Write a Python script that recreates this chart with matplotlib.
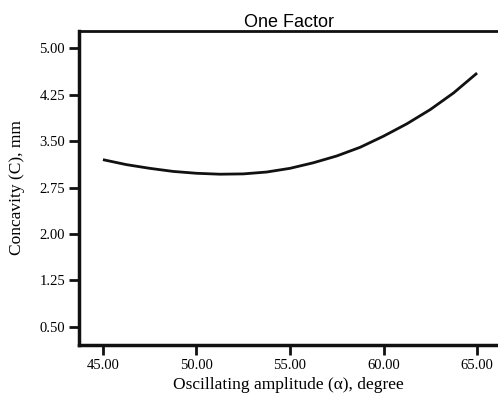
import numpy as np
import matplotlib
matplotlib.use("Agg")
from matplotlib import pyplot as plt

# values
amplitude = [45.0, 46.25, 47.5, 48.75, 50.0, 51.25, 52.5, 53.75, 55.0,
             56.25, 57.5, 58.75, 60.0, 61.25, 62.5, 63.75, 65.0]
concavity = [3.20, 3.12, 3.06, 3.01, 2.98, 2.965, 2.97, 3.00, 3.06,
             3.15, 3.26, 3.40, 3.58, 3.78, 4.01, 4.28, 4.60]

x_ticks = [45.0, 50.0, 55.0, 60.0, 65.0]
y_ticks = [0.50, 1.25, 2.00, 2.75, 3.50, 4.25, 5.00]

serif = "Liberation Serif"

fig = plt.figure(figsize=(4.98, 4.04), dpi=100)
ax = fig.add_axes([79 / 498, 1 - 345 / 404, 1 - 79 / 498, (345 - 31) / 404])

ax.plot(amplitude, concavity, color="#111111", lw=2.0, solid_capstyle="butt")

ax.set_xlim(43.72, 66.12)
ax.set_ylim(0.204, 5.28)
ax.set_xticks(x_ticks)
ax.set_yticks(y_ticks)
ax.set_xticklabels([f"{v:.2f}" for v in x_ticks], fontfamily=serif, fontsize=10.5)
ax.set_yticklabels([f"{v:.2f}" for v in y_ticks], fontfamily=serif, fontsize=10.5)
ax.tick_params(direction="out", length=7, width=2, color="#111111", pad=3)

for side in ["left", "bottom"]:
    ax.spines[side].set_linewidth(2.5)
    ax.spines[side].set_color("#111111")
ax.spines["top"].set_linewidth(2.0)
ax.spines["top"].set_color("#111111")
ax.spines["right"].set_visible(False)

ax.set_xlabel("Oscillating amplitude (\u03b1), degree", fontfamily=serif, fontsize=12.5, labelpad=4)
ax.set_ylabel("Concavity (C), mm", fontfamily=serif, fontsize=12.5, labelpad=10)
ax.set_title("One Factor", fontfamily="Liberation Sans", fontsize=13, pad=1)

fig.savefig("out.png", dpi=100)
